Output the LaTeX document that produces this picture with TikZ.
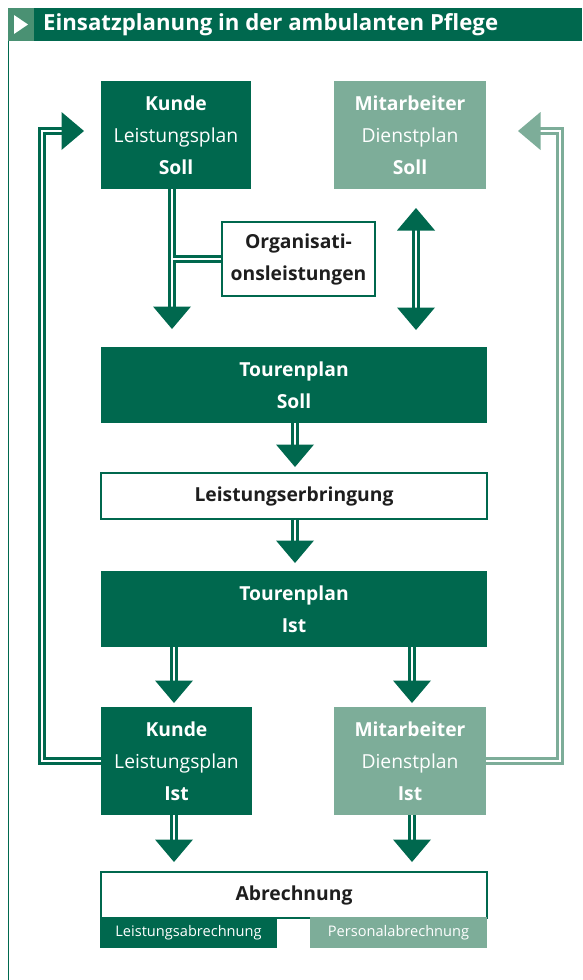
\documentclass[tikz,border=0pt]{standalone}
\usepackage{fontspec}
\setmainfont{Open Sans}
\definecolor{dk}{RGB}{0,104,78}
\definecolor{lt}{RGB}{125,173,153}
\definecolor{ban}{RGB}{74,145,115}
\definecolor{txt}{RGB}{30,30,30}
\newcommand\hdDown[2][dk]{\fill[#1] (#2) ++(-19,-0.5) -- ++(38,0) -- ++(-19,22.5) -- cycle;}
\newcommand\hdUp[2][dk]{\fill[#1] (#2) ++(-19,0.5) -- ++(38,0) -- ++(-19,-22.5) -- cycle;}
\newcommand\hdRight[2][dk]{\fill[#1] (#2) ++(-0.5,-19) -- ++(0,38) -- ++(22.5,-19) -- cycle;}
\newcommand\hdLeft[2][dk]{\fill[#1] (#2) ++(0.5,-19) -- ++(0,38) -- ++(-22.5,-19) -- cycle;}
\begin{document}
\begin{tikzpicture}[x=1pt,y=-1pt,
  boxtxt/.style={align=center, inner sep=0pt, font=\fontsize{19.3}{32}\selectfont},
  dkbox/.style={boxtxt, fill=dk, text=white},
  ltbox/.style={boxtxt, fill=lt, text=white},
  wbox/.style={boxtxt, fill=white, draw=dk, line width=1.3pt, text=txt},
  bar/.style={inner sep=0pt, text=white, font=\fontsize{14.6}{16}\selectfont, minimum width=177pt, minimum height=31pt},
  dbl/.style={draw=dk, line width=2.3pt, double=white, double distance=2.6pt},
  dbllt/.style={dbl, draw=lt}]
\useasboundingbox (0,0) rectangle (582,980);
% banner
\fill[dk] (8,8) rectangle (582,41);
\fill[ban] (8,8) rectangle (34,41);
\fill[white] (14,15) -- (28,24.5) -- (14,34) -- cycle;
\node[anchor=west, inner sep=0pt, text=white, font=\fontsize{22.2}{26}\selectfont\bfseries] (title) at (43,24.5) {Einsatzplanung in der ambulanten Pflege};
\draw[dk, line width=1.2pt] (8.6,41) -- (8.6,980);
% nodes
\node[dkbox, minimum width=150pt, minimum height=108pt] (ks) at (176,135) {\textbf{Kunde}\\Leistungsplan\\\textbf{Soll}};
\node[ltbox, minimum width=152pt, minimum height=108pt] (ms) at (410,135) {\textbf{Mitarbeiter}\\Dienstplan\\\textbf{Soll}};
\node[wbox, minimum width=153pt, minimum height=74pt] (org) at (298.5,259) {\textbf{Organisati-}\\\textbf{onsleistungen}};
\node[dkbox, minimum width=386pt, minimum height=76pt] (ts) at (294,385) {\textbf{Tourenplan}\\\textbf{Soll}};
\node[wbox, minimum width=386pt, minimum height=46pt] (le) at (294,496) {\textbf{Leistungserbringung}};
\node[dkbox, minimum width=386pt, minimum height=76pt] (ti) at (294,609) {\textbf{Tourenplan}\\\textbf{Ist}};
\node[dkbox, minimum width=151pt, minimum height=108pt] (ki) at (176.5,761) {\textbf{Kunde}\\Leistungsplan\\\textbf{Ist}};
\node[ltbox, minimum width=152pt, minimum height=108pt] (mi) at (410,761) {\textbf{Mitarbeiter}\\Dienstplan\\\textbf{Ist}};
\node[wbox, minimum width=386pt, minimum height=46pt] (ab) at (294,895) {\textbf{Abrechnung}};
\node[bar, fill=dk] (la) at (188.5,932.5) {Leistungsabrechnung};
\node[bar, fill=lt] (pa) at (398.5,932.5) {Personalabrechnung};
% coordinates
\coordinate (a1) at (172,307);
\coordinate (j1) at (172,259);
\coordinate (m1) at (416,230);
\coordinate (m2) at (416,308);
\coordinate (a2) at (295,445);
\coordinate (a3) at (295,541);
\coordinate (a4) at (174,681);
\coordinate (a5) at (412,681);
\coordinate (a6) at (174,840);
\coordinate (a7) at (412,840);
\coordinate (l1) at (42,761);
\coordinate (l2) at (42,131);
\coordinate (l3) at (62,131);
\coordinate (r1) at (560,761);
\coordinate (r2) at (560,131);
\coordinate (r3) at (540,131);
% connectors
\draw[dbl] (ks.south -| a1) -- (a1) (j1) -- (org.west);
\hdDown{a1}
\draw[dbl] (m1) -- (m2);
\hdUp{m1}
\hdDown{m2}
\draw[dbl] (ts.south -| a2) -- (a2);
\hdDown{a2}
\draw[dbl] (le.south -| a3) -- (a3);
\hdDown{a3}
\draw[dbl] (ti.south -| a4) -- (a4);
\hdDown{a4}
\draw[dbl] (ti.south -| a5) -- (a5);
\hdDown{a5}
\draw[dbl] (ki.south -| a6) -- (a6);
\hdDown{a6}
\draw[dbl] (mi.south -| a7) -- (a7);
\hdDown{a7}
\draw[dbl] (ki.west |- l1) -- (l1) -- (l2) -- (l3);
\hdRight{l3}
\draw[dbllt] (mi.east |- r1) -- (r1) -- (r2) -- (r3);
\hdLeft[lt]{r3}
\end{tikzpicture}
\end{document}
